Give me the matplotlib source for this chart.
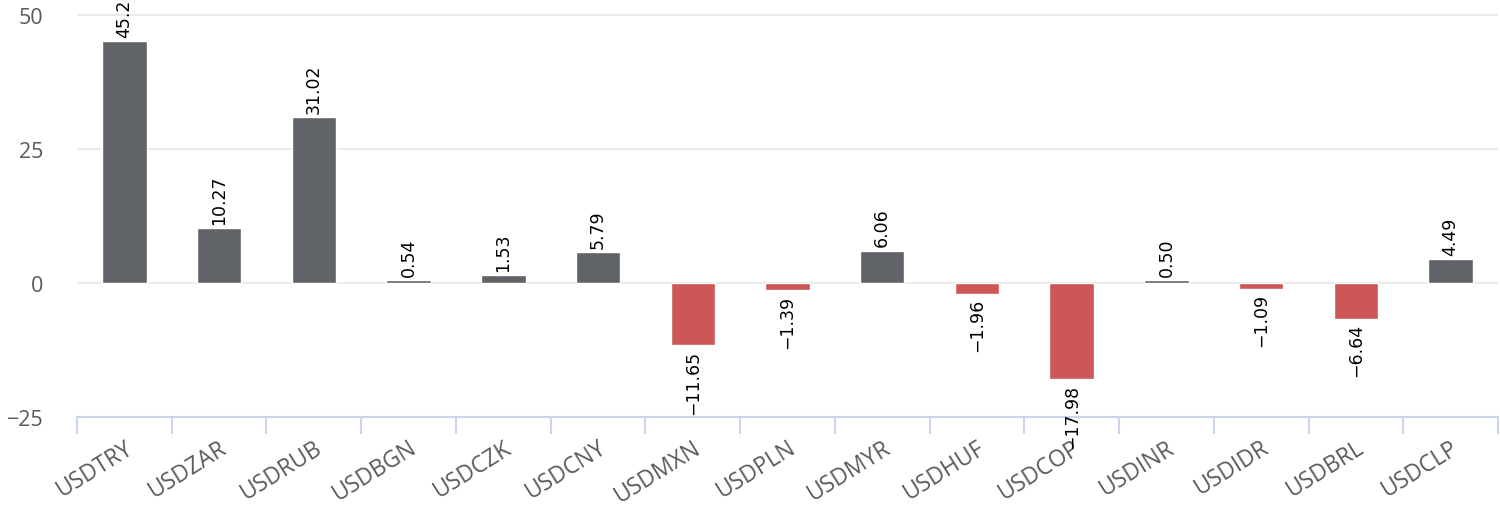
import matplotlib.pyplot as plt
import numpy as np

pairs = ["USDTRY", "USDZAR", "USDRUB", "USDBGN", "USDCZK", "USDCNY", "USDMXN", "USDPLN",
         "USDMYR", "USDHUF", "USDCOP", "USDINR", "USDIDR", "USDBRL", "USDCLP"]
changes = [45.21, 10.27, 31.02, 0.54, 1.53, 5.79, -11.65, -1.39,
           6.06, -1.96, -17.98, 0.50, -1.09, -6.64, 4.49]
y_ticks = [-25, 0, 25, 50]

pos_color = "#606368"
neg_color = "#cd5656"
axis_color = "#ccd6eb"

fig = plt.figure(figsize=(15, 5.06), dpi=100)
ax = fig.add_axes([77 / 1500, 88 / 506, 1421 / 1500, 418 / 506])

x = np.arange(len(pairs))
colors = [pos_color if v >= 0 else neg_color for v in changes]
ax.bar(x, changes, width=0.47, color=colors, edgecolor="white", linewidth=1, zorder=3)

# rotated value labels above / below each bar
for xi, v in zip(x, changes):
    label = f"{v:.2f}".replace("-", "\u2212")
    off, va = (3, "bottom") if v >= 0 else (-3, "top")
    ax.annotate(label, (xi, v), xytext=(0, off), textcoords="offset points",
                rotation=90, ha="center", va=va, fontsize=12.5, color="black",
                family="DejaVu Sans", zorder=4)

ax.set_xlim(-0.5, len(pairs) - 0.5)
ax.set_ylim(-25, 53)
ax.set_yticks(y_ticks)
ax.set_yticklabels([str(t).replace("-", "\u2212") for t in y_ticks], family="Open Sans")
for t in y_ticks[1:]:
    ax.axhline(t, color="#e6e6e6", linewidth=1.2, zorder=1)

ax.set_xticks(x)
ax.set_xticklabels(pairs, rotation=32, ha="right", rotation_mode="anchor", family="Open Sans")
ax.set_xticks(np.arange(-0.5, len(pairs)), minor=True)
ax.tick_params(axis="x", which="major", length=0, pad=13, labelsize=16.5, labelcolor="#5a5a5a")
ax.tick_params(axis="x", which="minor", length=12.5, width=1.5, color=axis_color)
ax.tick_params(axis="y", length=0, pad=24, labelsize=15.5, labelcolor="#5a5a5a")

for s in ["top", "right", "left"]:
    ax.spines[s].set_visible(False)
ax.spines["bottom"].set_color(axis_color)
ax.spines["bottom"].set_linewidth(1.5)

fig.savefig("out.png", dpi=100)
